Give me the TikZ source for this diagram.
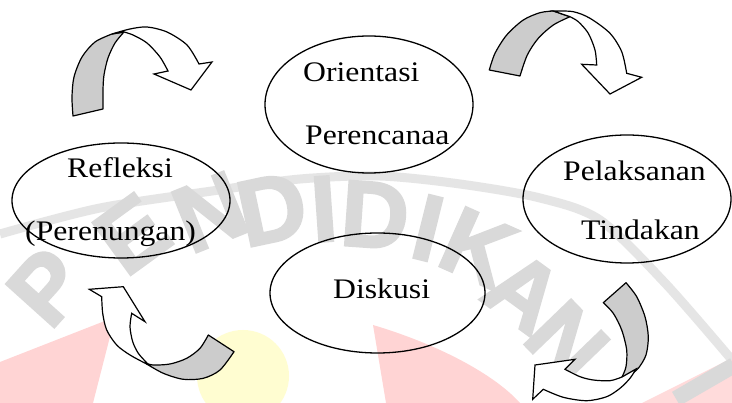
\documentclass[tikz,border=0pt]{standalone}
\usepackage{fontspec}
\setmainfont{Liberation Serif}[FakeStretch=1.12]
\setsansfont{Liberation Sans}
\newfontfamily\wmfont{Liberation Sans}[FakeBold=2.5]
\usetikzlibrary{shapes.geometric}
\begin{document}
\begin{tikzpicture}[x=1pt,y=-1pt,
  ellbox/.style={draw, ellipse, line width=1.3pt, inner sep=0pt},
  lbl/.style={anchor=base west, inner sep=0pt, font=\fontsize{28.3}{32}\selectfont},
  back/.style={draw, line width=1.2pt, fill=gray!40, line join=round},
  front/.style={draw, line width=1.2pt, fill=white, line join=miter},
  wm/.style={text=gray!30, font=\wmfont\bfseries\fontsize{94}{94}\selectfont, inner sep=0pt}]
\useasboundingbox (0,0) rectangle (732,403);
\fill[white] (0,0) rectangle (732,403);
% faint watermark
\fill[yellow!18] (243,376) circle (46);
\fill[red!17] (0,362) -- (115,317) -- (93,403) -- (0,403) -- cycle;
\fill[red!17] (373,325) .. controls (440,345) and (495,375) .. (520,403) -- (386,403) -- cycle;
\fill[red!14] (642,403) -- (732,358) -- (732,403) -- cycle;
\draw[gray!20, line width=9pt] plot[smooth] coordinates {(0,234) (100,208) (219,190) (300,179) (380,176) (460,184) (540,198) (600,220) (665,283) (732,360)};
\node[wm, rotate=48]  (w1) at (47,287) {P};
\node[wm, rotate=36]  (w2) at (132,234) {E};
\node[wm, rotate=22]  (w3) at (210,212) {N};
\node[wm, rotate=12]  (w4) at (272,209) {D};
\node[wm, rotate=4]   (w5) at (324,209) {I};
\node[wm, rotate=-4]  (w6) at (375,215) {D};
\node[wm, rotate=-14] (w7) at (428,228) {I};
\node[wm, rotate=-24] (w8) at (478,248) {K};
\node[wm, rotate=-36] (w9) at (524,292) {A};
\node[wm, rotate=-46] (w10) at (567,342) {N};
\node[wm, rotate=-60] (w11) at (705,382) {I};
% ellipses
\node[ellbox, minimum width=208, minimum height=137] (orient) at (369,104.5) {};
\node[ellbox, minimum width=218, minimum height=115] (refl) at (121,200.5) {};
\node[ellbox, minimum width=208, minimum height=128] (pelak) at (627,199) {};
\node[ellbox, minimum width=215, minimum height=120] (disk) at (377.5,293) {};
% texts
\node[lbl] (t1) at (303,82) {Orientasi};
\node[lbl] (t2) at (305,145) {Perencanaa};
\node[lbl] (t3) at (67,178) {Refleksi};
\node[lbl] (t4) at (25,240.5) {(Perenungan)};
\node[lbl] (t5) at (563,181) {Pelaksanan};
\node[lbl] (t6) at (581,240) {Tindakan};
\node[lbl] (t7) at (333,299) {Diskusi};
% arrow 1 (top left)
\draw[back] plot[smooth] coordinates {(73,116) (72,97) (74,77) (82,57) (95,42) (112,34)} -- (124,32)
  -- plot[smooth] coordinates {(124,32) (115,43) (108,58) (104,75) (103,90) (103,109)} -- cycle;
\draw[front] plot[smooth] coordinates {(112,34) (130,29) (147,27) (167,32) (187,45) (199,64)} -- (212,62) -- (191,90) -- (154,74) -- (168,71)
  -- plot[smooth] coordinates {(168,71) (160,57) (147,43) (133,35) (124,32)} -- cycle;
% arrow 2 (top right)
\draw[back] plot[smooth] coordinates {(489.3,70) (495,53.3) (506.7,35) (523.3,20) (540,12.7) (553.3,11)} -- (570,16.7)
  -- plot[smooth] coordinates {(570,16.7) (553.3,25) (538.3,38.3) (527.3,55) (520,76)} -- cycle;
\draw[front] plot[smooth] coordinates {(553.3,11) (573.3,11.7) (590,18.3) (610,33.3) (621.7,51.7) (626.7,73.3)} -- (641.7,77.3) -- (610,94) -- (581.7,64.3) -- (596.7,65)
  -- plot[smooth] coordinates {(596.7,65) (595,50) (588.3,33.3) (578.3,21.7) (570,16.7)} -- cycle;
% arrow 3 (bottom right)
\draw[back] (603.3,302.7) -- plot[smooth] coordinates {(626,282.7) (636.7,296.7) (645,316.7) (648.3,336.7) (646,355) (638.3,368.3) (630,375)} -- (622,377)
  -- plot[smooth] coordinates {(622,377) (626,366.7) (626.7,350) (621.7,330) (613.3,313.3) (603.3,302.7)} -- cycle;
\draw[front] plot[smooth] coordinates {(636,369) (630,378.3) (620,388.3) (606.7,396.7) (586.7,400.7) (563.3,397.3) (543.3,389.3)} -- (532.7,399.3) -- (535,365) -- (575,359.3) -- (565,369.3)
  -- plot[smooth] coordinates {(565,369.3) (580,376.7) (593.3,380) (610,380.7) (622,377)} -- cycle;
% arrow 4 (bottom left)
\draw[back] plot[smooth] coordinates {(146.7,364) (163.3,373.3) (183.3,379.3) (203.3,378.3) (220,370) (234,351.7)} -- (208.3,335)
  -- plot[smooth] coordinates {(208.3,335) (200,348.3) (186.7,358.3) (170,364) (153.3,365) (146.7,363.3)} -- cycle;
\draw[front] plot[smooth] coordinates {(146.7,364) (130,355) (116.7,345) (106.7,330) (102.7,313.3) (101.7,296.7)} -- (89.3,289.3) -- (123.3,286.7) -- (145,321.7) -- (131.7,313.3)
  -- plot[smooth] coordinates {(131.7,313.3) (130,326.7) (132.7,341.7) (138.3,353.3) (146.7,362.7)} -- cycle;
\end{tikzpicture}
\end{document}
